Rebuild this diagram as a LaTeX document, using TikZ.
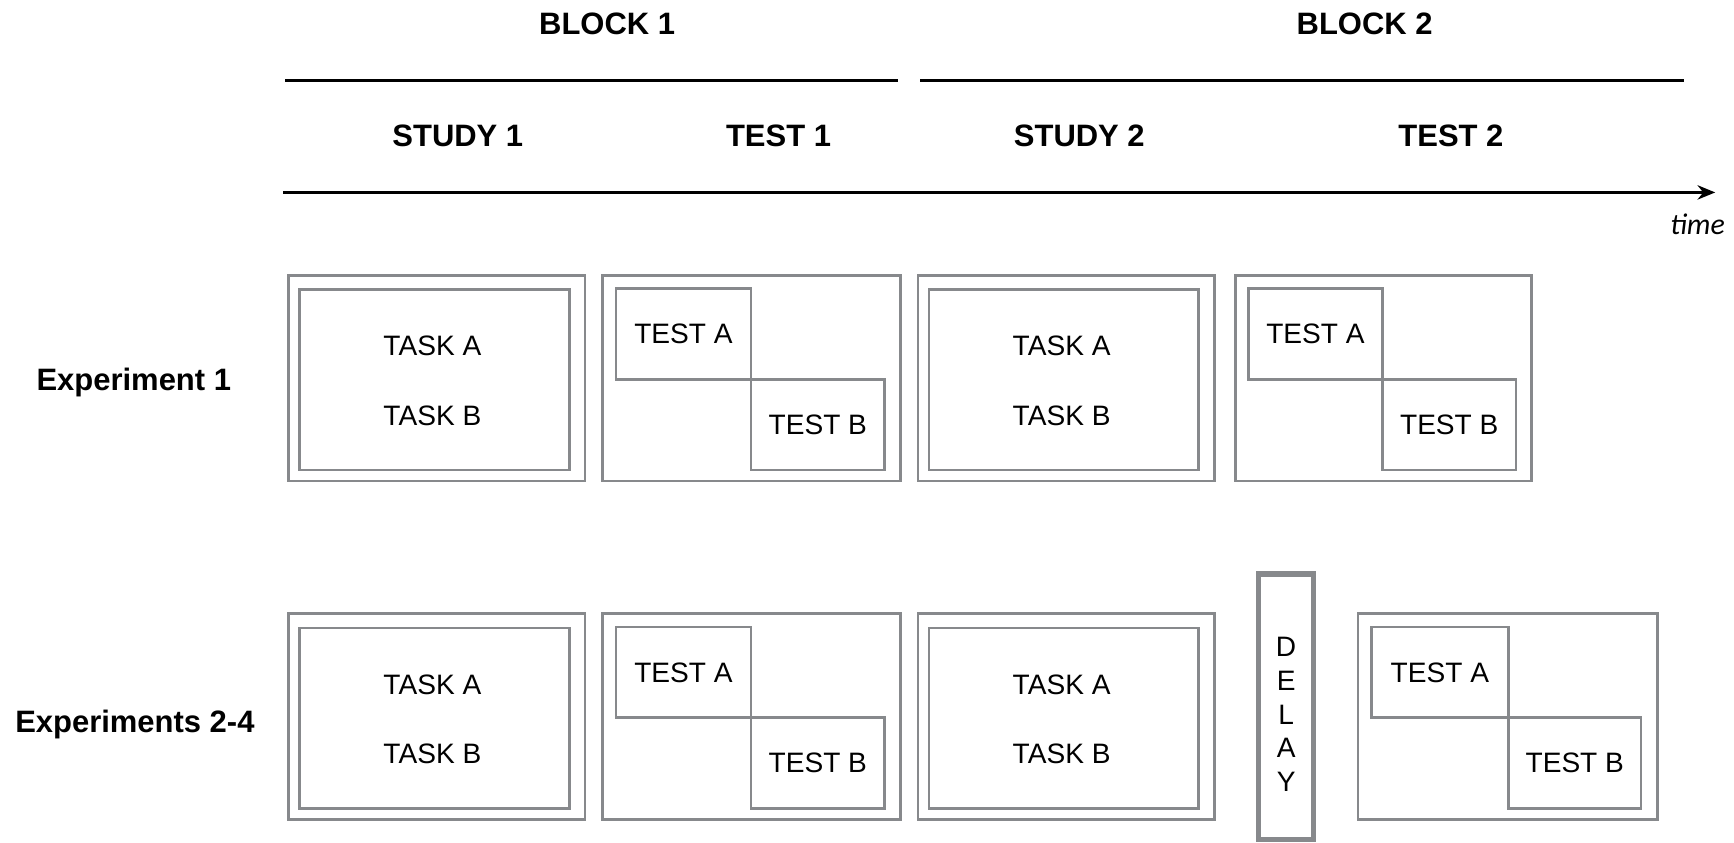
\documentclass[tikz,border=0pt]{standalone}
\usepackage{fontspec}
\setmainfont{Liberation Sans}
\newfontfamily\timefont{Carlito}
\usetikzlibrary{arrows.meta,calc}
\definecolor{boxgray}{RGB}{135,137,140}
\tikzset{
  outerbox/.style={draw=boxgray, line width=1.2pt, rectangle, inner sep=0pt, outer sep=0pt, anchor=north west},
  delaybox/.style={draw=boxgray, line width=2.3pt, rectangle, inner sep=0pt, outer sep=0pt, minimum width=25pt, minimum height=120pt},
  body/.style={font=\fontsize{12.7}{15.25}\selectfont, inner sep=0pt},
  head/.style={font=\fontsize{14}{16}\selectfont\bfseries, inner sep=0pt},
  rule/.style={line width=1.2pt, black},
}
\newcommand{\StudyBox}[3]{%
  \node[outerbox, minimum width=134pt, minimum height=93pt] (#1o) at (#2,#3) {};
  \node[outerbox, minimum width=122pt, minimum height=81.5pt] (#1i) at ($(#1o.north west)+(10,13)$) {};
  \node[body] (#1a) at ($(#1o.north west)+(130,64)$) {TASK A};
  \node[body] (#1b) at ($(#1o.north west)+(130,127)$) {TASK B};
}
\newcommand{\TestBox}[6]{%
  \node[outerbox, minimum width=#4, minimum height=93pt] (#1o) at (#2,#3) {};
  \node[outerbox, minimum width=#5, minimum height=41pt] (#1a) at ($(#1o.north west)+(12,12)$) {};
  \node[outerbox, minimum width=#6, minimum height=41pt] (#1b) at (#1a.south east) {};
  \node[body] at (#1a.center) {TEST A};
  \node[body] at (#1b.center) {TEST B};
}
\begin{document}
\begin{tikzpicture}[x=0.5pt, y=-0.5pt]
\useasboundingbox (0,0) rectangle (1568,762);
% headings
\node[head] (blk1) at (549,22) {BLOCK 1};
\node[head] (blk2) at (1234,22) {BLOCK 2};
\coordinate (l1a) at (258,73); \coordinate (l1b) at (812,73);
\coordinate (l2a) at (832,73); \coordinate (l2b) at (1523,73);
\draw[rule] (l1a) -- (l1b);
\draw[rule] (l2a) -- (l2b);
\node[head] (st1) at (414,123) {STUDY 1};
\node[head] (te1) at (704,123) {TEST 1};
\node[head] (st2) at (976,123) {STUDY 2};
\node[head] (te2) at (1312,123) {TEST 2};
\coordinate (t0) at (256,174); \coordinate (t1) at (1551,174);
\draw[rule, -{Stealth[length=8pt,width=6.5pt]}] (t0) -- (t1);
\node[inner sep=0pt, font=\timefont\fontsize{13.5}{16}\selectfont\itshape] (time) at (1535,203) {time};
% row labels
\node[head] (exp1) at (121,346) {Experiment 1};
\node[head] (exp2) at (122,655) {Experiments 2-4};
% row 1
\StudyBox{ra}{261}{249}
\TestBox{rb}{545}{249}{134.5pt}{61pt}{60.5pt}
\StudyBox{rc}{830}{249}
\TestBox{rd}{1117}{249}{134pt}{60.5pt}{60.5pt}
% row 2
\StudyBox{sa}{261}{555}
\TestBox{sb}{545}{555}{134.5pt}{61pt}{60.5pt}
\StudyBox{sc}{830}{555}
\node[delaybox] (delay) at (1163,639) {};
\node[body, align=center] (delayt) at (1163,646) {D\\E\\L\\A\\Y};
\TestBox{sd}{1228}{555}{135.5pt}{62pt}{60pt}
\end{tikzpicture}
\end{document}
